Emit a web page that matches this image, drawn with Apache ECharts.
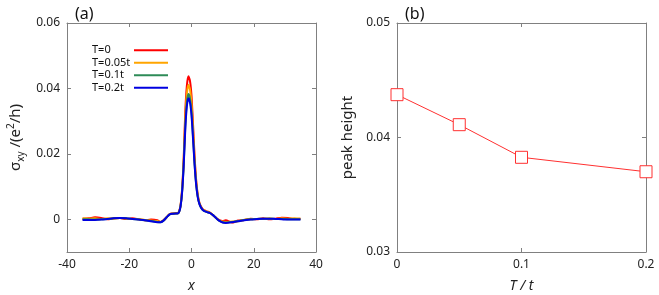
<!DOCTYPE html>
<html><head><meta charset="utf-8">
<script src="https://cdn.jsdelivr.net/npm/echarts@6/dist/echarts.min.js"></script>
<style>html,body{margin:0;padding:0;background:#fff}#c{width:659px;height:295px}</style>
</head><body><div id="c"></div>
<script>
var xs = [-35,-33,-31,-29,-27,-25,-23,-21,-19,-17,-15,-13,-11,-10,-9,-8,-7,-6,-5,-4.5,-4,-3.5,-3,-2.5,-2,-1.5,-1,-0.5,0,0.5,1,1.5,2,2.5,3,3.5,4,5,6,7,8,9,10,11,13,15,17,19,21,23,25,27,29,31,33,35];
var yT0 = [0.0002,0.0003,0.0006,0.0004,0.0000,0.0003,0.0004,0.0001,0.0003,0.0000,-0.0003,-0.0001,-0.0003,-0.0008,-0.0003,0.0006,0.0016,0.0018,0.0019,0.0019,0.0024,0.0044,0.0095,0.0189,0.0328,0.0407,0.0437,0.0424,0.0378,0.0288,0.0192,0.0120,0.0076,0.0052,0.0040,0.0032,0.0028,0.0024,0.0020,0.0012,0.0003,-0.0003,-0.0005,-0.0003,-0.0010,-0.0004,-0.0002,0.0002,0.0000,0.0003,0.0000,0.0002,0.0005,0.0004,0.0001,0.0002];
var yT005 = [0.0003,0.0002,0.0003,0.0001,0.0003,0.0002,0.0004,0.0002,0.0001,0.0001,-0.0002,-0.0004,-0.0005,-0.0008,-0.0003,0.0006,0.0016,0.0018,0.0018,0.0018,0.0023,0.0042,0.0090,0.0180,0.0307,0.0383,0.0411,0.0398,0.0354,0.0270,0.0180,0.0113,0.0072,0.0050,0.0038,0.0031,0.0027,0.0023,0.0020,0.0012,0.0003,-0.0004,-0.0007,-0.0008,-0.0007,-0.0006,-0.0001,0.0000,0.0001,0.0001,0.0003,0.0001,0.0003,0.0002,0.0003,0.0002];
var yT01 = [0.0000,0.0000,-0.0001,0.0000,0.0001,0.0003,0.0004,0.0003,0.0001,-0.0001,-0.0003,-0.0005,-0.0008,-0.0009,-0.0004,0.0006,0.0015,0.0017,0.0018,0.0018,0.0022,0.0041,0.0087,0.0170,0.0285,0.0357,0.0383,0.0370,0.0329,0.0252,0.0170,0.0108,0.0070,0.0049,0.0037,0.0030,0.0026,0.0022,0.0019,0.0012,0.0003,-0.0005,-0.0009,-0.0010,-0.0008,-0.0005,-0.0002,0.0000,0.0001,0.0002,0.0002,0.0001,0.0001,0.0000,0.0000,0.0000];
var yT02 = [-0.0002,-0.0002,-0.0002,-0.0001,0.0001,0.0003,0.0004,0.0003,0.0001,-0.0001,-0.0003,-0.0006,-0.0009,-0.0009,-0.0004,0.0006,0.0015,0.0017,0.0018,0.0018,0.0022,0.0040,0.0085,0.0165,0.0275,0.0345,0.0370,0.0358,0.0318,0.0245,0.0165,0.0105,0.0068,0.0048,0.0037,0.0030,0.0026,0.0022,0.0019,0.0012,0.0003,-0.0005,-0.0010,-0.0011,-0.0009,-0.0006,-0.0003,-0.0001,0.0001,0.0002,0.0002,0.0001,0.0000,-0.0001,-0.0001,-0.0001];
var seriesNames = ['T=0','T=0.05t','T=0.1t','T=0.2t'];
var seriesColors = ['#ff0000','#ffa500','#2e8b57','#0000e0'];
var tempX = [0, 0.05, 0.1, 0.2];
var peakH = [0.04374, 0.04112, 0.03827, 0.03701];
var leftYTicks = [0, 0.02, 0.04, 0.06];

function pairs(x, y){ return x.map(function(v,i){ return [v, y[i]]; }); }
var curves = [yT0, yT005, yT01, yT02];
var FONT = 'Noto Sans';
var AX = '#808080';

var chart = echarts.init(document.getElementById('c'), null, {renderer:'canvas'});
var series = curves.map(function(c, i){
  return {type:'line', name:seriesNames[i], xAxisIndex:0, yAxisIndex:0, data:pairs(xs,c),
    smooth:0.25, showSymbol:false, symbol:'none', lineStyle:{color:seriesColors[i], width:2}, itemStyle:{color:seriesColors[i]}, z:2+i};
});
series.push({type:'line', name:'peak', xAxisIndex:2, yAxisIndex:2, data:pairs(tempX, peakH),
  symbol:'rect', symbolSize:12, showSymbol:true, clip:false,
  lineStyle:{color:'#ff3030', width:1}, itemStyle:{color:'#ffffff', borderColor:'#ff3030', borderWidth:1}});

function mkX(grid, min, max, interval, pos, show, name){
  return {type:'value', gridIndex:grid, min:min, max:max, interval:interval, position:pos,
    axisLine:{show:true, onZero:false, lineStyle:{color:AX}},
    axisTick:{show:true, inside:true, length:4, lineStyle:{color:AX}},
    axisLabel:{show:show, margin:7, color:'#222', fontSize:12, fontFamily:FONT},
    splitLine:{show:false},
    name: name||'', nameLocation:'middle', nameGap:27,
    nameTextStyle:{color:'#222', fontSize:14, fontStyle:'italic', fontFamily:FONT}};
}
var option = {
  animation:false,
  title:[
    {text:'(a)', left:70, top:1, textStyle:{fontSize:16, fontWeight:'normal', color:'#111', fontFamily:FONT}},
    {text:'(b)', left:400, top:1, textStyle:{fontSize:16, fontWeight:'normal', color:'#111', fontFamily:FONT}}
  ],
  legend:{data:seriesNames, orient:'vertical', left:87, top:39, align:'right', icon:'rect', itemWidth:34, itemHeight:2, itemGap:0,
    formatter:function(n){ return '{a|' + n + '}'; },
    textStyle:{fontSize:11, color:'#111', fontFamily:FONT, lineHeight:12.5,
      rich:{a:{width:37, align:'left', fontSize:11, color:'#111', fontFamily:FONT, lineHeight:12.5}}}},
  grid:[
    {left:67, right:343, top:23, bottom:43, outerBoundsMode:'none', containLabel:false},
    {left:397, right:13, top:23, bottom:43, outerBoundsMode:'none', containLabel:false}
  ],
  xAxis:[
    mkX(0,-40,40,20,'bottom',true,'x'),
    mkX(0,-40,40,20,'top',false),
    {type:'value', gridIndex:1, min:0, max:0.2, interval:0.1, position:'bottom',
      axisLine:{show:true, onZero:false, lineStyle:{color:AX}},
      axisTick:{show:true, inside:true, length:4, lineStyle:{color:AX}},
      axisLabel:{show:true, margin:7, color:'#222', fontSize:12, fontFamily:FONT, formatter:function(v){return String(+v.toFixed(2));}},
      splitLine:{show:false}, name:'T / t', nameLocation:'middle', nameGap:27,
      nameTextStyle:{color:'#222', fontSize:14, fontStyle:'italic', fontFamily:FONT}},
    mkX(1,0,0.2,0.1,'top',false)
  ],
  yAxis:[
    {type:'value', gridIndex:0, min:-0.01, max:0.06, position:'left',
      axisLine:{show:true, onZero:false, lineStyle:{color:AX}},
      axisTick:{show:true, inside:true, length:4, lineStyle:{color:AX}, customValues:leftYTicks},
      axisLabel:{show:true, margin:7, color:'#222', fontSize:12, fontFamily:FONT, customValues:leftYTicks,
        formatter:function(v){return String(+v.toFixed(3));}},
      splitLine:{show:false},
      name:'{m|σ}{sub|xy}{m| /(e}{sup|2}{m|/h)}', nameLocation:'middle', nameGap:41, nameRotate:90,
      nameTextStyle:{color:'#222', fontFamily:FONT, rich:{
        m:{fontSize:15, fontFamily:FONT, color:'#222', lineHeight:20, verticalAlign:'middle'},
        sub:{fontSize:10, fontFamily:FONT, color:'#222', lineHeight:20, verticalAlign:'bottom'},
        sup:{fontSize:10, fontFamily:FONT, color:'#222', lineHeight:20, verticalAlign:'top'}}}},
    {type:'value', gridIndex:0, min:-0.01, max:0.06, position:'right',
      axisLine:{show:true, onZero:false, lineStyle:{color:AX}},
      axisTick:{show:true, inside:true, length:4, lineStyle:{color:AX}, customValues:leftYTicks},
      axisLabel:{show:false, customValues:leftYTicks}, splitLine:{show:false}},
    {type:'value', gridIndex:1, min:0.03, max:0.05, interval:0.01, position:'left',
      axisLine:{show:true, onZero:false, lineStyle:{color:AX}},
      axisTick:{show:true, inside:true, length:4, lineStyle:{color:AX}},
      axisLabel:{show:true, margin:7, color:'#222', fontSize:12, fontFamily:FONT, formatter:function(v){return v.toFixed(2);}},
      splitLine:{show:false}, name:'peak height', nameLocation:'middle', nameGap:42, nameRotate:90,
      nameTextStyle:{color:'#222', fontSize:15, fontFamily:FONT}},
    {type:'value', gridIndex:1, min:0.03, max:0.05, interval:0.01, position:'right',
      axisLine:{show:true, onZero:false, lineStyle:{color:AX}},
      axisTick:{show:true, inside:true, length:4, lineStyle:{color:AX}},
      axisLabel:{show:false}, splitLine:{show:false}}
  ],
  series:series
};
chart.setOption(option);
</script></body></html>
